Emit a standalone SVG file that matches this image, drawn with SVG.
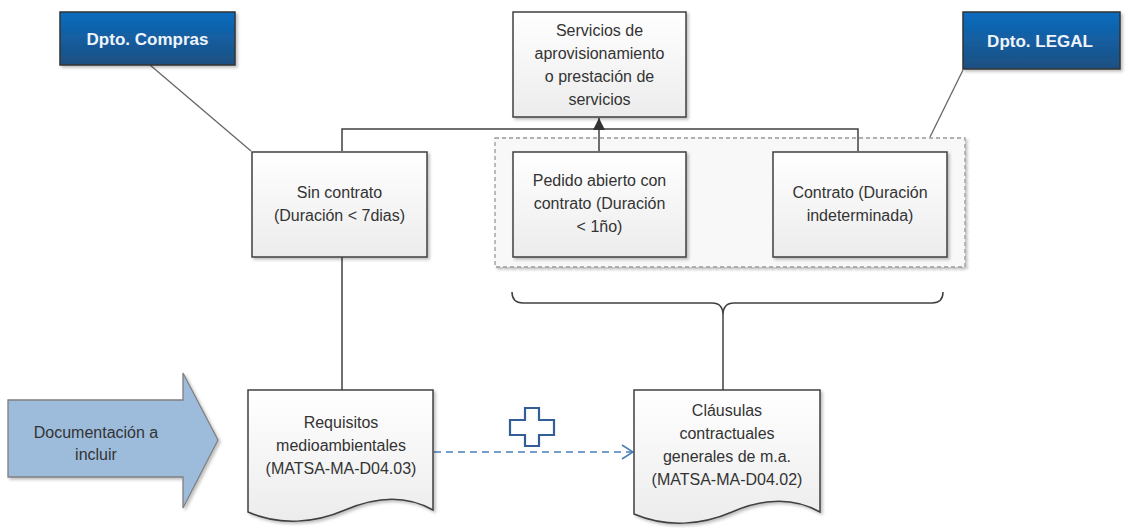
<svg xmlns="http://www.w3.org/2000/svg" width="1132" height="529" viewBox="0 0 1132 529">
<defs>
<linearGradient id="boxg" x1="0" y1="0" x2="0" y2="1">
<stop offset="0" stop-color="#ffffff"/><stop offset="1" stop-color="#ececec"/>
</linearGradient>
<linearGradient id="dept" x1="0" y1="0" x2="0" y2="1">
<stop offset="0" stop-color="#0a6cbf"/><stop offset="1" stop-color="#1d4f80"/>
</linearGradient>
<filter id="sh" x="-10%" y="-10%" width="130%" height="130%">
<feDropShadow dx="2" dy="2" stdDeviation="1.5" flood-color="#000" flood-opacity="0.25"/>
</filter>
<marker id="tri" markerWidth="12" markerHeight="12" refX="10" refY="5" orient="auto" markerUnits="userSpaceOnUse" viewBox="0 0 10 10">
<path d="M0,0 L10,5 L0,10 Z" fill="#333"/>
</marker>
<marker id="open" markerWidth="16" markerHeight="16" refX="12" refY="8" orient="auto" markerUnits="userSpaceOnUse" viewBox="0 0 16 16">
<path d="M1,1 L12,8 L1,15" fill="none" stroke="#4a7ebb" stroke-width="1.5"/>
</marker>
</defs>
<style>
.box{fill:url(#boxg);stroke:#404040;stroke-width:1.5;filter:url(#sh)}
.dept{fill:url(#dept);stroke:#333;stroke-width:1.5;filter:url(#sh)}
.t{font-family:"Liberation Sans",Arial,sans-serif;font-size:16px;fill:#333;text-anchor:middle}
.dt{font-family:"Liberation Sans",Arial,sans-serif;font-size:17px;font-weight:bold;fill:#eef4fb;text-anchor:middle}
.ln{fill:none;stroke:#404040;stroke-width:1.5}
.cl{fill:none;stroke:#666;stroke-width:1.3}
</style>
<rect width="1132" height="529" fill="#fff"/>

<g id="grupo-legal">
<rect x="495" y="138" width="470" height="129" fill="#f8f8f8" stroke="#999" stroke-width="1.3" stroke-dasharray="4,3" filter="url(#sh)"/>
</g>

<g id="connectors">
<line class="cl" x1="150" y1="65" x2="251" y2="151"/>
<line class="cl" x1="963" y1="70" x2="930" y2="137"/>
<polyline class="ln" points="342,151 342,129 858,129 858,151"/>
<line class="ln" x1="599" y1="151" x2="599" y2="118" marker-end="url(#tri)"/>
<line class="ln" x1="342" y1="257" x2="342" y2="390"/>
<path class="ln" d="M512,292 Q512,303 523,303 L712,303 Q723,303 723,315 Q723,303 734,303 L932,303 Q943,303 943,292"/>
<line class="ln" x1="723" y1="315" x2="723" y2="390"/>
<line x1="434" y1="452" x2="633" y2="452" stroke="#4a7ebb" stroke-width="1.5" stroke-dasharray="7,5" marker-end="url(#open)"/>
</g>

<g id="dpto-compras">
<rect class="dept" x="60" y="12" width="175" height="53"/>
<text class="dt" x="147.5" y="45">Dpto. Compras</text>
</g>

<g id="dpto-legal">
<rect class="dept" x="963" y="12" width="157" height="57"/>
<text class="dt" x="1040" y="47">Dpto. LEGAL</text>
</g>

<g id="servicios">
<rect class="box" x="513" y="12" width="173" height="105"/>
<text class="t" x="599.5" y="36">Servicios de</text>
<text class="t" x="599.5" y="59">aprovisionamiento</text>
<text class="t" x="599.5" y="82">o prestación de</text>
<text class="t" x="599.5" y="105">servicios</text>
</g>

<g id="sin-contrato">
<rect class="box" x="252" y="152" width="175" height="105"/>
<text class="t" x="339.5" y="198">Sin contrato</text>
<text class="t" x="339.5" y="221">(Duración &lt; 7dias)</text>
</g>

<g id="pedido">
<rect class="box" x="513" y="152" width="173" height="105"/>
<text class="t" x="599.5" y="186">Pedido abierto con</text>
<text class="t" x="599.5" y="209">contrato (Duración</text>
<text class="t" x="599.5" y="232">&lt; 1ño)</text>
</g>

<g id="contrato">
<rect class="box" x="773" y="152" width="174" height="105"/>
<text class="t" x="860" y="198">Contrato (Duración</text>
<text class="t" x="860" y="221">indeterminada)</text>
</g>

<g id="documentacion">
<path d="M8,400 H183 V373 L218,440 L183,508 V477 H8 Z" fill="#9dbcdc" stroke="#7f7f7f" stroke-width="1.3" filter="url(#sh)"/>
<text class="t" x="96" y="438">Documentación a</text>
<text class="t" x="96" y="460">incluir</text>
</g>

<g id="requisitos">
<path class="box" d="M248,390 H433 V510 C405,494 375,497 345,510 C315,523 280,526 248,512 Z"/>
<text class="t" x="341" y="428">Requisitos</text>
<text class="t" x="341" y="451">medioambientales</text>
<text class="t" x="341" y="474">(MATSA-MA-D04.03)</text>
</g>

<g id="clausulas">
<path class="box" d="M634,390 H820 V512 C792,496 762,499 732,512 C702,525 667,528 634,514 Z"/>
<text class="t" x="727" y="416">Cláusulas</text>
<text class="t" x="727" y="439">contractuales</text>
<text class="t" x="727" y="462">generales de m.a.</text>
<text class="t" x="727" y="485">(MATSA-MA-D04.02)</text>
</g>

<g id="plus">
<path d="M525,408 H539 V420 H554 V435 H539 V446 H525 V435 H510 V420 H525 Z" fill="#fff" stroke="#335f96" stroke-width="2.2"/>
</g>
</svg>
